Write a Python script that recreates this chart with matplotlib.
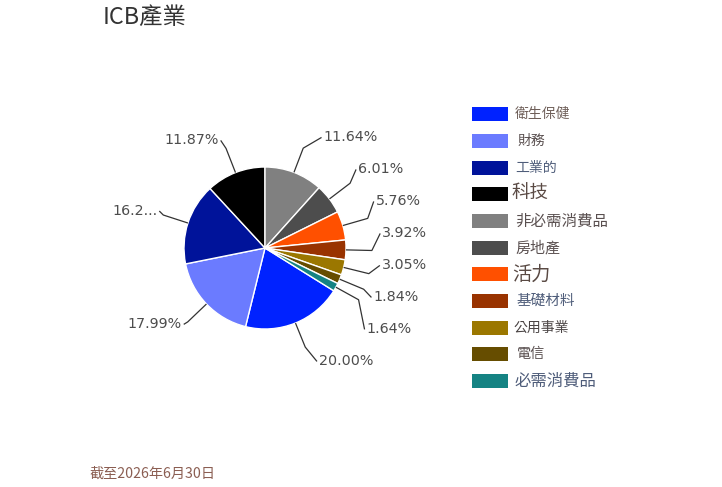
import numpy as np
import matplotlib
matplotlib.use("Agg")
import matplotlib.pyplot as plt
from matplotlib.patches import Rectangle

plt.rcParams['font.family'] = ['Noto Sans CJK TC', 'DejaVu Sans']

# ---------------- data ----------------
categories = ['衛生保健', '財務', '工業的', '科技', '非必需消費品', '房地產',
              '活力', '基礎材料', '公用事業', '電信', '必需消費品']
values = [20.00, 17.99, 16.28, 11.87, 11.64, 6.01, 5.76, 3.92, 3.05, 1.84, 1.64]
pct_labels = ['20.00%', '17.99%', '16.2...', '11.87%', '11.64%', '6.01%',
              '5.76%', '3.92%', '3.05%', '1.84%', '1.64%']
colors = ['#0022ff', '#6b7bff', '#00139a', '#000000', '#808080', '#4d4d4d',
          '#ff5000', '#993300', '#9b7700', '#664d00', '#158383']
title = 'ICB產業'
footer = '截至2026年6月30日'

# legend text styling (as seen in the reference)
legend_text_colors = ['#6e5e58', '#5a5050', '#4f5d7a', '#5a4a44', '#5a5050', '#5a5050',
                      '#5a4a44', '#4f5d7a', '#4a4444', '#5a5050', '#4f5d7a']
legend_text_sizes = [10, 10, 10, 13.3, 11.2, 10.8, 13.8, 10.5, 10, 10.2, 11.8]
legend_text_x = [515, 517, 515, 512, 515, 515, 512, 517, 513, 517, 515]

W, H = 722, 487
fig = plt.figure(figsize=(W / 100, H / 100), dpi=100)
fig.patch.set_facecolor('white')
ax = fig.add_axes([0, 0, 1, 1])

# pie geometry (pixel units, y up)
cx, cy, r = 265, H - 248, 81
total = float(sum(values))
start = 90 + 360 * sum(values[:4]) / total

ax.pie(values, colors=colors, startangle=start, counterclock=False,
       center=(cx, cy), radius=r, frame=True,
       wedgeprops=dict(edgecolor='white', linewidth=1.0))
ax.set_xlim(0, W)
ax.set_ylim(0, H)
ax.set_aspect('equal')
ax.axis('off')

# mid angles
cum = np.cumsum([0] + values[:-1])
mids = np.radians(start - 360 * (cum + np.array(values) / 2) / total)

# natural label positions (image y, downward)
nat_y = H - (cy + 1.4 * r * np.sin(mids))
sides = np.where(np.cos(mids) >= 0, 1, -1)


def distribute(idx, ys, gap):
    order = sorted(idx, key=lambda i: ys[i])
    clusters = []
    for i in order:
        clusters.append([[i], ys[i]])
        while len(clusters) > 1:
            prev, last = clusters[-2], clusters[-1]
            if last[1] < prev[1] + len(prev[0]) * gap:
                members = prev[0] + last[0]
                m = np.mean([ys[j] for j in members])
                clusters[-2:] = [[members, m - gap * (len(members) - 1) / 2]]
            else:
                break
    pos = {}
    for members, s in clusters:
        for k, j in enumerate(members):
            pos[j] = s + k * gap
    return pos


pos = {}
for s in (1, -1):
    ids = [i for i in range(len(values)) if sides[i] == s]
    pos.update(distribute(ids, nat_y, 32))

R = 132.5
for i in range(len(values)):
    th = mids[i]
    s = sides[i]
    ly = H - pos[i] + 2
    dy = ly - cy
    dx = np.sqrt(max(R ** 2 - dy ** 2, 0))
    off = 14.5 if s > 0 else 31
    lx = cx + s * (dx - off)
    ex, ey = cx + r * np.cos(th), cy + r * np.sin(th)
    bx, by = cx + 1.32 * r * np.cos(th), cy + 1.32 * r * np.sin(th)
    if s > 0:
        lx = max(lx, bx + 8)
    else:
        lx = min(lx, bx - 6)
    ax.plot([ex, bx, lx - s * 2], [ey, by, ly], color='#333333', lw=0.9,
            solid_capstyle='butt', zorder=1)
    ax.text(lx, ly, pct_labels[i], ha='left' if s > 0 else 'right', va='center',
            fontsize=10.3, color='#4d4d4d', family=['DejaVu Sans'])

# legend (manual)
for i, cat in enumerate(categories):
    yc = H - (114.3 + i * 26.67)
    ax.add_patch(Rectangle((472, yc - 7), 36, 14, facecolor=colors[i],
                           edgecolor='none'))
    ax.text(legend_text_x[i], yc, cat, ha='left', va='center',
            fontsize=legend_text_sizes[i], color=legend_text_colors[i])

ax.text(103, H - 17, title, ha='left', va='center', fontsize=16.8, color='#333333')
ax.text(89, H - 474, footer, ha='left', va='center', fontsize=10.2, color='#8b5e52')

fig.savefig('out.png', dpi=100, facecolor='white')
